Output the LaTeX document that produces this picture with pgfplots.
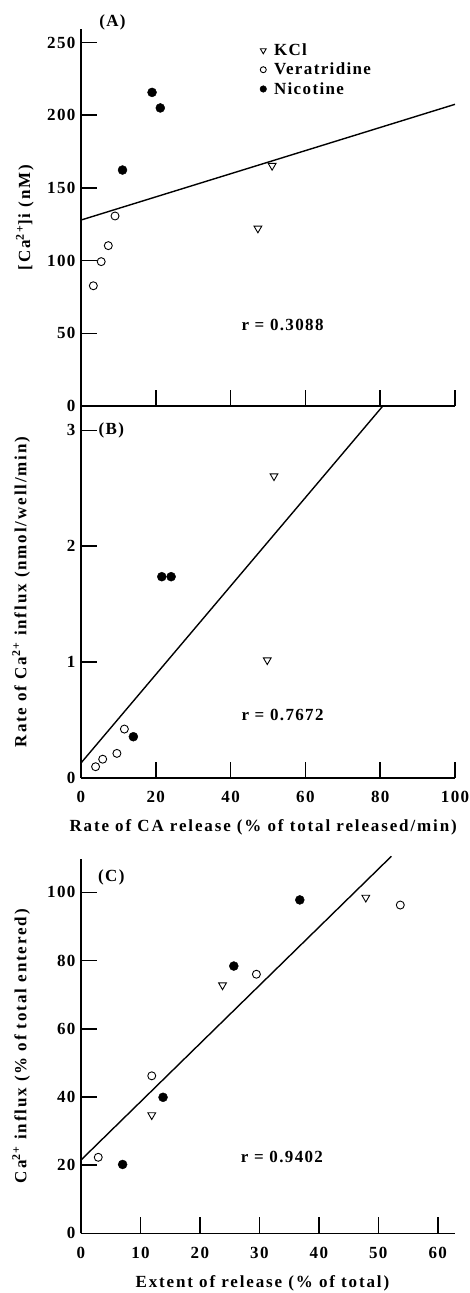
\documentclass[border=0pt]{standalone}
\usepackage{pgfplots}
\pgfplotsset{compat=1.18}
\usepackage{fontspec}
\setmainfont{Liberation Serif}
\newfontfamily\tickfont{Liberation Serif Bold}[LetterSpace=8.0]
\newfontfamily\labfont{Liberation Serif Bold}[LetterSpace=11.0]
\newcommand\ff{\fontsize{17}{20}\selectfont\tickfont}
\newcommand\lf{\fontsize{17}{20}\selectfont\labfont}

\pgfplotstableread{
x y
47.3 122.2
51.1 165.3
}\AKCl
\pgfplotstableread{
x y
3.3 82.7
5.4 99.3
7.3 110.3
9.1 130.7
}\AVer
\pgfplotstableread{
x y
11.1 162.3
19.0 215.7
21.2 205.0
}\ANic
\pgfplotstableread{
x y
51.6 2.605
49.8 1.016
}\BKCl
\pgfplotstableread{
x y
3.9 0.095
5.8 0.16
9.6 0.21
11.6 0.42
}\BVer
\pgfplotstableread{
x y
14.0 0.354
21.6 1.736
24.1 1.736
}\BNic
\pgfplotstableread{
x y
11.9 34.7
23.8 72.8
47.9 98.5
}\CKCl
\pgfplotstableread{
x y
2.9 22.3
11.9 46.2
29.5 76.0
53.7 96.3
}\CVer
\pgfplotstableread{
x y
7.0 20.2
13.8 39.9
25.7 78.4
36.8 97.8
}\CNic

\pgfplotsset{
  every axis/.append style={
    scale only axis,
    axis x line=bottom, axis y line=left,
    axis line style={line width=1.6pt,-},
    tick align=inside,
    major tick length=16pt,
    every tick/.style={line width=1.5pt,black},
    /pgf/number format/assume math mode=true,
    tick label style={font=\ff},
    xticklabel style={yshift=-10pt},
    yticklabel style={xshift=-2pt},
    label style={font=\lf},
    clip=false,
  },
  kcl/.style={only marks, mark=triangle, mark size=4.5pt, mark options={rotate=180, fill=white, draw=black, line width=0.9pt}},
  ver/.style={only marks, mark=o, mark size=4pt, mark options={draw=black, line width=0.9pt}},
  nic/.style={only marks, mark=*, mark size=4.5pt, mark options={fill=black, draw=black}},
  fit/.style={no marks, black, line width=1.4pt},
}

\begin{document}
\begin{tikzpicture}[x=1pt,y=1pt]
\path[use as bounding box] (0pt,0pt) rectangle (470pt,-1293pt);

% Panel A
\begin{axis}[
  at={(81pt,-406pt)}, anchor=south west,
  width=374pt, height=377pt,
  xmin=0, xmax=100, ymin=0, ymax=259.3,
  xtick={0,20,40,60,80,100}, xticklabels={},
  ytick={0,50,100,150,200,250},
  ylabel={[Ca\textsuperscript{2+}]i (nM)},
  ylabel style={at={(axis description cs:-0.150,0.5)}, anchor=center},
  legend style={at={(axis description cs:0.470,0.972)}, anchor=north west, draw=none, fill=none, font=\ff, row sep=2pt},
  legend cell align=left,
  legend image code/.code={\draw[#1] plot coordinates {(0cm,0cm)}; \path (-0.1cm,0cm) (0.3cm,0cm);},
]
\addlegendimage{kcl, mark size=3.4pt}
\addlegendentry{KCl}
\addlegendimage{ver, mark size=3pt}
\addlegendentry{Veratridine}
\addlegendimage{nic, mark size=3.3pt}
\addlegendentry{Nicotine}
\addplot[kcl, forget plot] table {\AKCl};
\addplot[ver, forget plot] table {\AVer};
\addplot[nic, forget plot] table {\ANic};
\addplot[fit, forget plot] coordinates {(0,127.9) (100,207.5)};
\node[font=\ff] at (axis cs:53.9,55.7) {r = 0.3088};
\node[font=\ff] at (axis cs:8.4,264) {(A)};
\end{axis}

% Panel B
\begin{axis}[
  at={(81pt,-777.7pt)}, anchor=south west,
  width=374pt, height=371.7pt,
  xmin=0, xmax=100, ymin=0, ymax=3.21,
  xtick={0,20,40,60,80,100},
  ytick={0,1,2,3},
  xlabel={Rate of CA release (\% of total released/min)},
  xlabel style={at={(axis description cs:0.487,0)}, anchor=center, yshift=-50pt},
  ylabel={Rate of Ca\textsuperscript{2+} influx (nmol/well/min)},
  ylabel style={at={(axis description cs:-0.160,0.5)}, anchor=center},
]
\addplot[kcl] table {\BKCl};
\addplot[ver] table {\BVer};
\addplot[nic] table {\BNic};
\addplot[fit] coordinates {(0,0.127) (80.7,3.21)};
\node[font=\ff] at (axis cs:53.9,0.54) {r = 0.7672};
\node[font=\ff] at (axis cs:8.1,3.0) {(B)};
\end{axis}

% Panel C
\begin{axis}[
  at={(81pt,-1233.3pt)}, anchor=south west,
  width=374pt, height=374.3pt,
  xmin=0, xmax=62.9, ymin=0, ymax=109.8,
  xtick={0,10,20,30,40,50,60},
  ytick={0,20,40,60,80,100},
  xlabel={Extent of release (\% of total)},
  xlabel style={at={(axis description cs:0.485,0)}, anchor=center, yshift=-50pt},
  ylabel={Ca\textsuperscript{2+} influx (\% of total entered)},
  ylabel style={at={(axis description cs:-0.160,0.5)}, anchor=center},
]
\addplot[kcl] table {\CKCl};
\addplot[ver] table {\CVer};
\addplot[nic] table {\CNic};
\addplot[fit] coordinates {(0,21.5) (52.2,110.6)};
\node[font=\ff] at (axis cs:33.8,22.3) {r = 0.9402};
\node[font=\ff] at (axis cs:5.1,104.4) {(C)};
\end{axis}
\end{tikzpicture}
\end{document}
